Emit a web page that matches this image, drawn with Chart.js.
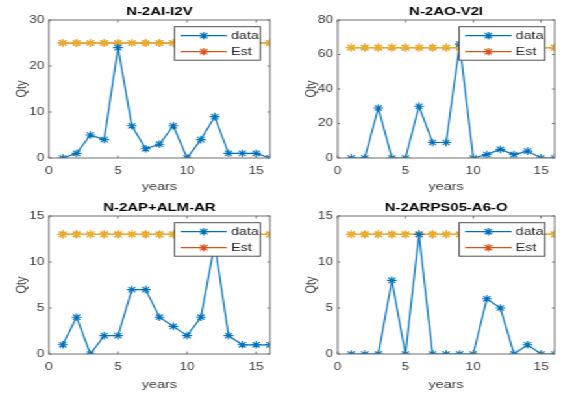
<!DOCTYPE html>
<html>
<head>
<meta charset="utf-8">
<script src="https://cdn.jsdelivr.net/npm/chart.js@4.4.1/dist/chart.umd.min.js"></script>
<style>
  body { margin: 0; background: #fff; }
  /* the reference figure is stretched sideways, so the whole figure is too */
  #fig { position: relative; width: 432px; height: 394px; transform: scaleX(1.2986); transform-origin: 0 0; }
  #fig canvas { position: absolute; }
</style>
</head>
<body>
<div id="fig">
  <canvas id="c0" width="216" height="196" style="left:0px;top:0px"></canvas>
  <canvas id="c1" width="216" height="196" style="left:216px;top:0px"></canvas>
  <canvas id="c2" width="216" height="198" style="left:0px;top:196px"></canvas>
  <canvas id="c3" width="216" height="198" style="left:216px;top:196px"></canvas>
</div>
<script>
const years = [1, 2, 3, 4, 5, 6, 7, 8, 9, 10, 11, 12, 13, 14, 15, 16];
const xTicks = [0, 5, 10, 15];

const titles = ["N-2AI-I2V", "N-2AO-V2I", "N-2AP+ALM-AR", "N-2ARPS05-A6-O"];

const qty2AI = [0, 1, 5, 4, 24, 7, 2, 3, 7, 0, 4, 9, 1, 1, 1, 0];
const est2AI = [25, 25, 25, 25, 25, 25, 25, 25, 25, 25, 25, 25, 25, 25, 25, 25];
const yTicks2AI = [0, 10, 20, 30];

const qty2AO = [0, 0, 29, 0, 0, 30, 9, 9, 66, 0, 2, 5, 2, 4, 0, 0];
const est2AO = [64, 64, 64, 64, 64, 64, 64, 64, 64, 64, 64, 64, 64, 64, 64, 64];
const yTicks2AO = [0, 20, 40, 60, 80];

const qty2AP = [1, 4, 0, 2, 2, 7, 7, 4, 3, 2, 4, 12, 2, 1, 1, 1];
const est2AP = [13, 13, 13, 13, 13, 13, 13, 13, 13, 13, 13, 13, 13, 13, 13, 13];
const yTicks2AP = [0, 5, 10, 15];

const qty2ARPS = [0, 0, 0, 8, 0, 13, 0, 0, 0, 0, 6, 5, 0, 1, 0, 0];
const est2ARPS = [13, 13, 13, 13, 13, 13, 13, 13, 13, 13, 13, 13, 13, 13, 13, 13];
const yTicks2ARPS = [0, 5, 10, 15];

const panels = [
  { qty: qty2AI, est: est2AI, yTicks: yTicks2AI },
  { qty: qty2AO, est: est2AO, yTicks: yTicks2AO },
  { qty: qty2AP, est: est2AP, yTicks: yTicks2AP },
  { qty: qty2ARPS, est: est2ARPS, yTicks: yTicks2ARPS },
];

// plot-area placement inside each canvas
const layouts = [
  { w: 216, h: 196, left: 37.7, right: 207.9, top: 20, bottom: 158 },
  { w: 216, h: 196, left: 44, right: 214.2, top: 20, bottom: 158 },
  { w: 216, h: 198, left: 37.7, right: 207.9, top: 20, bottom: 158 },
  { w: 216, h: 198, left: 44, right: 214.2, top: 20, bottom: 158 },
];

const BLUE = "#0072BD";
const RED = "#D95319";
const YELLOW = "#EDB120";
const FONT = "'Liberation Sans', Arial, sans-serif";
const AXIS = "#6e6e6e";
const TEXT = "#3a3a3a";

// box around the axes with MATLAB-style inward ticks, plus the title
const axesBox = {
  id: "axesBox",
  afterDatasetsDraw(chart) {
    const { ctx, chartArea: a, scales } = chart;
    ctx.save();
    ctx.strokeStyle = AXIS;
    ctx.lineWidth = 1;
    ctx.beginPath();
    scales.x.ticks.forEach((t) => {
      const px = scales.x.getPixelForValue(t.value);
      ctx.moveTo(px, a.bottom);
      ctx.lineTo(px, a.bottom - 2.5);
      ctx.moveTo(px, a.top);
      ctx.lineTo(px, a.top + 2.5);
    });
    scales.y.ticks.forEach((t) => {
      const py = scales.y.getPixelForValue(t.value);
      ctx.moveTo(a.left, py);
      ctx.lineTo(a.left + 2, py);
      ctx.moveTo(a.right, py);
      ctx.lineTo(a.right - 2, py);
    });
    ctx.stroke();
    ctx.strokeRect(a.left, a.top, a.right - a.left, a.bottom - a.top);

    ctx.fillStyle = "#000";
    ctx.font = "bold 11.5px " + FONT;
    ctx.textAlign = "center";
    ctx.textBaseline = "middle";
    ctx.fillText(chart.options.axesTitle, (a.left + a.right) / 2, 11.5);
    ctx.restore();
  },
};

// legend drawn inside the upper right of the axes
const insideLegend = {
  id: "insideLegend",
  afterDraw(chart) {
    const { ctx, chartArea: a } = chart;
    const w = 66, h = 33.5;
    const x0 = a.right - 7.5 - w;
    const y0 = a.top + 6.7;
    ctx.save();
    ctx.fillStyle = "#fff";
    ctx.fillRect(x0, y0, w, h);
    ctx.strokeStyle = "#505050";
    ctx.lineWidth = 1;
    ctx.strokeRect(x0, y0, w, h);
    chart.data.datasets.filter((d) => d.label).forEach((d, k) => {
      const y = y0 + 9 + k * 16;
      ctx.strokeStyle = d.borderColor;
      ctx.lineWidth = 1.2;
      ctx.beginPath();
      ctx.moveTo(x0 + 4.6, y);
      ctx.lineTo(x0 + 40.3, y);
      ctx.stroke();
      Chart.helpers.drawPoint(ctx, { pointStyle: "star", radius: 3.8, borderWidth: 1.1, rotation: 0 }, x0 + 22.5, y);
      ctx.fillStyle = "#262626";
      ctx.font = "11px " + FONT;
      ctx.textBaseline = "middle";
      ctx.textAlign = "left";
      ctx.fillText(d.label, x0 + 43.5, y + 0.5);
    });
    ctx.restore();
  },
};

function makePanel(p, i) {
  const lay = layouts[i];
  const toPoints = (vals) => years.map((x, k) => ({ x: x, y: vals[k] }));
  const yMin = p.yTicks[0];
  const yMax = p.yTicks[p.yTicks.length - 1];

  const chart = new Chart(document.getElementById("c" + i), {
    type: "line",
    data: {
      datasets: [
        { label: "data", data: toPoints(p.qty), borderColor: BLUE, backgroundColor: BLUE, order: 0 },
        { label: "Est", data: toPoints(p.est), borderColor: RED, backgroundColor: RED, order: 2 },
        { label: "", data: toPoints(p.est), borderColor: YELLOW, backgroundColor: YELLOW, order: 1 },
      ],
    },
    options: {
      responsive: false,
      animation: false,
      events: [],
      axesTitle: titles[i],
      layout: { padding: { left: 0, top: lay.top, bottom: 0, right: lay.w - lay.right } },
      elements: {
        line: { borderWidth: 1.2, tension: 0, fill: false },
        point: { pointStyle: "star", radius: 3.8, borderWidth: 1.1, hoverRadius: 3.8 },
      },
      scales: {
        x: {
          type: "linear",
          min: 0,
          max: 16,
          afterBuildTicks: (s) => { s.ticks = xTicks.map((v) => ({ value: v })); },
          afterFit: (s) => { s.height = lay.h - lay.bottom; },
          grid: { display: false, drawTicks: false },
          border: { display: false },
          ticks: { padding: 7, color: TEXT, font: { family: FONT, size: 10.5 } },
          title: {
            display: true,
            text: "years",
            color: TEXT,
            padding: { top: 0, bottom: 2.5 },
            font: { family: FONT, size: 11 },
          },
        },
        y: {
          min: yMin,
          max: yMax,
          afterBuildTicks: (s) => { s.ticks = p.yTicks.map((v) => ({ value: v })); },
          afterFit: (s) => { s.width = lay.left; },
          grid: { display: false, drawTicks: false },
          border: { display: false },
          ticks: { padding: 3.5, color: TEXT, font: { family: FONT, size: 10.5 } },
          title: {
            display: true,
            text: "Qty",
            color: TEXT,
            padding: { top: lay.left - 27, bottom: 0 },
            font: { family: FONT, size: 11 },
          },
        },
      },
      plugins: {
        legend: { display: false },
        tooltip: { enabled: false },
        title: { display: false },
      },
    },
    plugins: [axesBox, insideLegend],
  });

  // nudge the right padding so the plot area ends where intended
  const a = chart.chartArea;
  chart.options.layout.padding.right -= lay.right - a.right;
  chart.update();
}

panels.forEach(makePanel);
</script>
</body>
</html>
